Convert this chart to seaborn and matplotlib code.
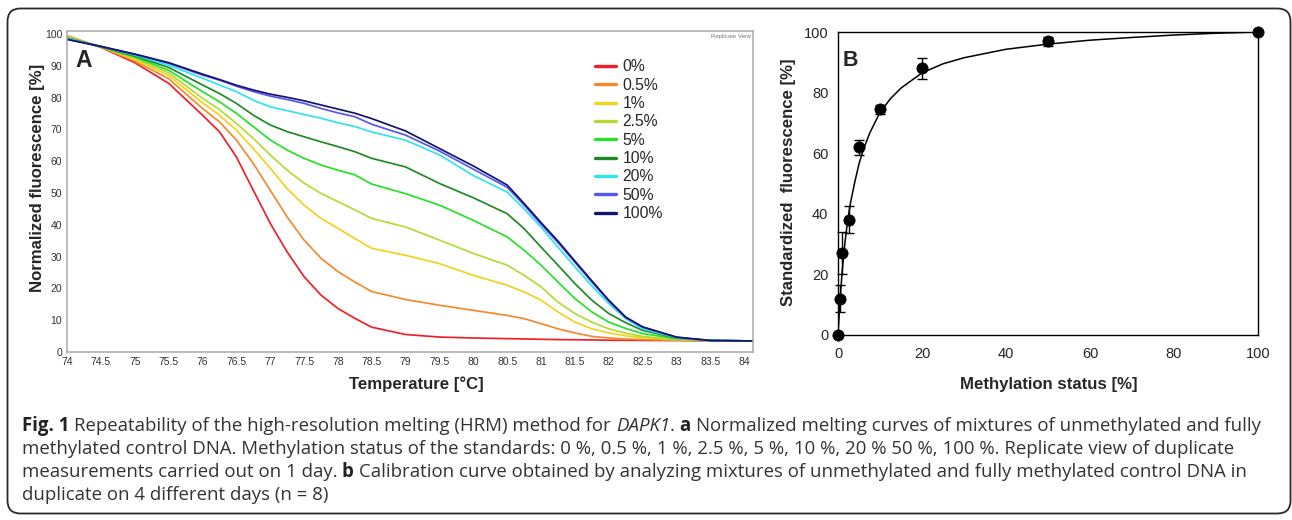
import numpy as np
import pandas as pd
import matplotlib
matplotlib.use("Agg")
import matplotlib.pyplot as plt
import seaborn as sns
from matplotlib.patches import FancyBboxPatch
from matplotlib.font_manager import FontProperties

# ---------------- data ----------------
temps = [74, 74.5, 75, 75.5, 76, 76.25, 76.5, 76.75, 77, 77.25, 77.5, 77.75, 78, 78.25, 78.5,
         79, 79.5, 80, 80.5, 80.75, 81, 81.25, 81.5, 81.75, 82, 82.25, 82.5, 83, 83.5, 84, 84.13]
series_labels = ["0%", "0.5%", "1%", "2.5%", "5%", "10%", "20%", "50%", "100%"]
fl_0 = [99.3, 95.8, 91, 84.5, 74.5, 69.3, 61.4, 50.9, 40.5, 31.5, 23.7, 17.9, 13.7, 10.6, 7.8,
        5.5, 4.7, 4.4, 4.2, 4.1, 4.0, 3.9, 3.85, 3.8, 3.7, 3.7, 3.65, 3.6, 3.5, 3.5, 3.5]
fl_05 = [99.5, 95.9, 91.5, 86, 76.6, 72.4, 66.7, 59.3, 50.9, 42.5, 35.2, 29.5, 25.3, 22, 19,
         16.5, 14.7, 13.1, 11.5, 10.5, 8.9, 7.3, 6.0, 4.9, 4.4, 4.1, 3.9, 3.7, 3.5, 3.5, 3.5]
fl_1 = [99.2, 96, 92, 87, 78.4, 74.5, 69.8, 64.0, 57.8, 51.4, 46.2, 42.0, 38.9, 35.7, 32.6,
        30.4, 27.8, 24.1, 21, 18.9, 16.3, 12.6, 9.4, 7.3, 6.0, 5.1, 4.5, 3.9, 3.6, 3.5, 3.5]
fl_25 = [99.0, 96, 92.4, 87.8, 79.8, 76.3, 71.9, 67.2, 62, 57.2, 53.1, 49.9, 47.3, 44.7, 42,
         39.3, 35.2, 31, 27.3, 24.1, 20.5, 15.7, 12.1, 9.4, 7.3, 5.9, 4.9, 3.9, 3.6, 3.5, 3.5]
fl_5 = [98.8, 96, 92.8, 88.6, 81.9, 78.7, 75.1, 70.9, 66.7, 63.5, 60.9, 58.8, 57.2, 55.7, 52.8,
        49.8, 46.2, 41.4, 36.2, 32, 27.3, 22, 16.8, 12.6, 9.4, 7.4, 5.8, 4.2, 3.7, 3.5, 3.5]
fl_10 = [98.7, 96, 93.1, 89.5, 84, 81.3, 78.2, 74.5, 71.4, 69.3, 67.7, 66.1, 64.6, 63, 60.9,
         58.2, 53, 48.5, 43.5, 38.8, 33, 27.3, 21.5, 16.3, 12.1, 9.2, 6.8, 4.4, 3.7, 3.5, 3.5]
fl_20 = [98.6, 96.1, 93.4, 90.2, 86.1, 84, 81.9, 79.2, 77.1, 75.9, 74.7, 73.5, 72.1, 70.9, 69.2,
         66.6, 62, 55.5, 50.3, 45, 39.3, 33, 26.8, 20.8, 15.2, 10.5, 7.3, 4.5, 3.6, 3.5, 3.5]
fl_50 = [98.4, 96.1, 93.6, 90.8, 87.1, 85.5, 83.6, 81.9, 80.5, 79.4, 78.2, 76.6, 75.2, 74, 71.6,
         68.2, 63.2, 57.5, 51.8, 46.2, 40.2, 34.4, 28.2, 22, 16, 10.8, 7.8, 4.6, 3.6, 3.5, 3.5]
fl_100 = [98.3, 96.1, 93.7, 91, 87.4, 85.7, 83.9, 82.4, 81.1, 80.1, 79, 77.7, 76.4, 75.1, 73.4,
          69.5, 64, 58.5, 52.5, 46.7, 40.7, 34.9, 28.6, 22.4, 16.3, 11, 7.9, 4.7, 3.6, 3.5, 3.5]
series_values = [fl_0, fl_05, fl_1, fl_25, fl_5, fl_10, fl_20, fl_50, fl_100]
series_colors = ["#f0202a", "#f58a2c", "#f2d21c", "#b2dc34", "#28e028",
                 "#1f8a24", "#30e4ee", "#5656f2", "#14146e"]
xticks_a = [74, 74.5, 75, 75.5, 76, 76.5, 77, 77.5, 78, 78.5, 79, 79.5, 80, 80.5, 81,
            81.5, 82, 82.5, 83, 83.5, 84]
xticklabels_a = ["74", "74.5", "75", "75.5", "76", "76.5", "77", "77.5", "78", "78.5", "79",
                 "79.5", "80", "80.5", "81", "81.5", "82", "82.5", "83", "83.5", "84"]
yticks_a = [0, 10, 20, 30, 40, 50, 60, 70, 80, 90, 100]

meth_x = [0, 0.5, 1, 2.5, 5, 10, 20, 50, 100]
meth_y = [0, 12, 27, 38, 62, 74.5, 88, 97, 100]
meth_err = [0, 4.5, 7, 4.5, 2.5, 1.5, 3.5, 1.5, 0]
fit_x = [0, 0.25, 0.5, 1, 1.5, 2, 2.5, 3, 4, 5, 6, 7.5, 10, 12.5, 15, 20, 25, 30, 40, 50,
         60, 70, 80, 90, 100]
fit_y = [0, 6, 11.7, 21, 28.5, 34.5, 39.5, 43.8, 50.5, 56.5, 61, 66.5, 73.5, 78, 81.5, 86.5,
         89.5, 91.5, 94.3, 96, 97.3, 98.2, 99, 99.6, 100]
ticks_b = [0, 20, 40, 60, 80, 100]

caption_lines = [
    [("Fig. 1 ", "bold", "normal"),
     ("Repeatability of the high-resolution melting (HRM) method for ", "normal", "normal"),
     ("DAPK1", "normal", "italic"), (". ", "normal", "normal"), ("a ", "bold", "normal"),
     ("Normalized melting curves of mixtures of unmethylated and fully", "normal", "normal")],
    [("methylated control DNA. Methylation status of the standards: 0 %, 0.5 %, 1 %, 2.5 %, 5 %, "
      "10 %, 20 % 50 %, 100 %. Replicate view of duplicate", "normal", "normal")],
    [("measurements carried out on 1 day. ", "normal", "normal"), ("b ", "bold", "normal"),
     ("Calibration curve obtained by analyzing mixtures of unmethylated and fully methylated "
      "control DNA in", "normal", "normal")],
    [("duplicate on 4 different days (n = 8)", "normal", "normal")],
]

# ---------------- style ----------------
sns.set_style("white")
plt.rcParams["font.family"] = ["Liberation Sans", "DejaVu Sans"]
W, H = 1292, 520
fig = plt.figure(figsize=(W / 100, H / 100), dpi=100)

def fx(px):
    return px / W

def fy(py):
    return 1 - py / H

narrow = ["Liberation Sans Narrow", "Liberation Sans", "DejaVu Sans"]
label_size = 12.1

# ---------------- panel A ----------------
axA = fig.add_axes([fx(67), fy(352), fx(753) - fx(67), fy(31) - fy(352)])
rows = []
for lab, vals in zip(series_labels, series_values):
    assert len(vals) == len(temps)
    for t, v in zip(temps, vals):
        rows.append({"T": t, "F": v, "s": lab})
dfA = pd.DataFrame(rows)
pal = dict(zip(series_labels, series_colors))
sns.lineplot(data=dfA, x="T", y="F", hue="s", hue_order=series_labels, palette=pal,
             estimator=None, sort=False, lw=1.25, ax=axA, legend=False)
axA.set_xlim(74, 84.13)
axA.set_ylim(0, 100.95)
axA.set_xticks(xticks_a)
axA.set_xticklabels(xticklabels_a, family=narrow, fontsize=7.5, color="#333333")
axA.set_yticks(yticks_a)
axA.set_yticklabels([str(v) for v in yticks_a], family=narrow, fontsize=7.5, color="#333333")
axA.tick_params(axis="both", direction="out", length=2.5, width=0.8, color="#777777", pad=1)
for sp in axA.spines.values():
    sp.set_color("#a8a8a8")
    sp.set_linewidth(1.1)
axA.set_xlabel("")
axA.set_ylabel("")
fig.text(fx(38), fy(178), "Normalized fluorescence [%]", rotation=90, ha="center", va="center",
         fontsize=label_size, fontweight="bold")
fig.text(fx(416), fy(384), "Temperature [°C]", ha="center", va="center",
         fontsize=label_size, fontweight="bold")
axA.text(0.012, 0.908, "A", transform=axA.transAxes, fontsize=16.5, fontweight="bold",
         ha="left", va="center")
axA.text(0.997, 0.99, "Replicate View", transform=axA.transAxes, fontsize=4.3, color="#777777",
         ha="right", va="top")
handles = [plt.Line2D([], [], color=c, lw=2.4) for c in series_colors]
axA.legend(handles, series_labels, loc="upper left", bbox_to_anchor=(0.770, 0.912),
           frameon=False, fontsize=11.3, handlelength=1.35, handletextpad=0.4,
           labelspacing=0.215, borderpad=0, borderaxespad=0)

# ---------------- panel B ----------------
axB = fig.add_axes([fx(838), fy(335), fx(1258) - fx(838), fy(32) - fy(335)])
dfFit = pd.DataFrame({"x": fit_x, "y": fit_y})
sns.lineplot(data=dfFit, x="x", y="y", color="black", lw=1.1, estimator=None, sort=False,
             ax=axB)
axB.errorbar(meth_x, meth_y, yerr=meth_err, fmt="none", ecolor="black", elinewidth=1.0,
             capsize=3.8, capthick=1.0, clip_on=False)
dfB = pd.DataFrame({"x": meth_x, "y": meth_y})
sns.scatterplot(data=dfB, x="x", y="y", color="black", s=66, edgecolor="black",
                linewidth=0.5, ax=axB, clip_on=False, zorder=5)
axB.set_xlim(0, 100)
axB.set_ylim(0, 100)
axB.set_xticks(ticks_b)
axB.set_yticks(ticks_b)
axB.set_xticklabels([str(v) for v in ticks_b], fontsize=10.5)
axB.set_yticklabels([str(v) for v in ticks_b], fontsize=10.5)
axB.tick_params(axis="x", direction="in", length=4, width=0.9, color="black", pad=9)
axB.tick_params(axis="y", direction="out", length=4, width=0.9, color="black", pad=3)
for sp in axB.spines.values():
    sp.set_color("black")
    sp.set_linewidth(1.0)
axB.set_xlabel("")
axB.set_ylabel("")
fig.text(fx(788), fy(182), "Standardized  fluorescence [%]", rotation=90, ha="center",
         va="center", fontsize=label_size, fontweight="bold")
fig.text(fx(1049), fy(384), "Methylation status [%]", ha="center", va="center",
         fontsize=label_size, fontweight="bold")
axB.text(0.01, 0.905, "B", transform=axB.transAxes, fontsize=15.5, fontweight="bold",
         ha="left", va="center")

# ---------------- outer frame ----------------
frame = FancyBboxPatch((0.075, 0.065), 12.83, 5.05,
                       boxstyle="round,pad=0,rounding_size=0.13",
                       transform=fig.dpi_scale_trans, fill=False, edgecolor="#2a2a2a",
                       linewidth=1.3)
fig.patches.append(frame)

# ---------------- caption ----------------
fig.canvas.draw()
renderer = fig.canvas.get_renderer()
cap_family = ["Open Sans", "DejaVu Sans"]

def adv(text, weight, style, size):
    fp = FontProperties(family=cap_family, size=size, weight=weight, style=style)
    w1, _, _ = renderer.get_text_width_height_descent("X" + text + "X", fp, ismath=False)
    w2, _, _ = renderer.get_text_width_height_descent("XX", fp, ismath=False)
    return w1 - w2

# size chosen so that the first caption line spans the same width as in the reference
ref_size = 10.0
w_line1 = sum(adv(t, w, s, ref_size) for t, w, s in caption_lines[0])
cap_size = ref_size * (1242.0 / w_line1)

baselines = [431, 454, 477, 500]
for segs, base in zip(caption_lines, baselines):
    x = 22.0
    for text, weight, style in segs:
        fig.text(fx(x), fy(base), text, fontsize=cap_size, family=cap_family,
                 fontweight=weight, fontstyle=style,
                 color="#333333" if weight == "normal" else "#222222",
                 ha="left", va="baseline")
        x += adv(text, weight, style, cap_size)

fig.savefig("out.png", dpi=100)
